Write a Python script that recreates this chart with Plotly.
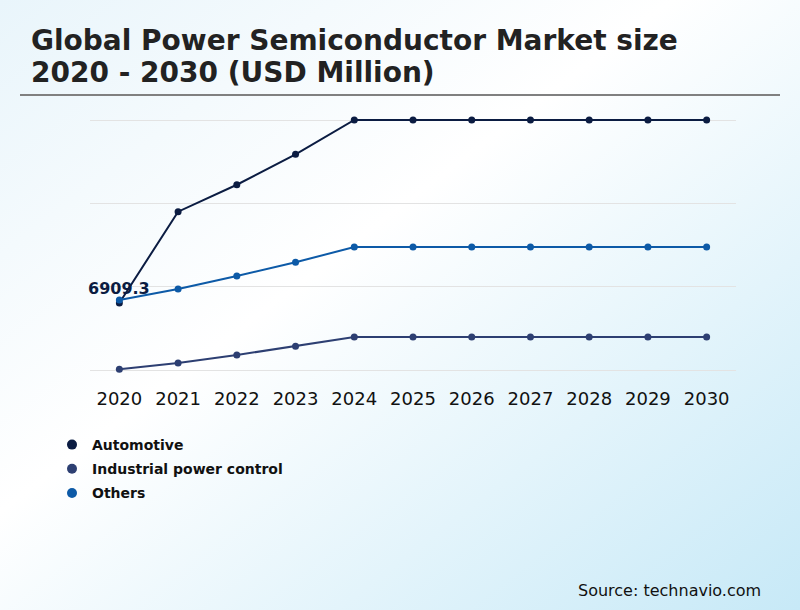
import base64
import plotly.graph_objects as go

# ---- data ----
years = ["2020", "2021", "2022", "2023", "2024", "2025", "2026", "2027", "2028", "2029", "2030"]
automotive = [6909.3, 16340, 19120, 22260, 25800, 25800, 25800, 25800, 25800, 25800, 25800]
industrial = [72, 722, 1548, 2446, 3406, 3406, 3406, 3406, 3406, 3406, 3406]
others = [7224, 8359, 9701, 11115, 12694, 12694, 12694, 12694, 12694, 12694, 12694]
grid_vals = [0, 8600, 17200, 25800]

series = [
    ("Automotive", automotive, "#0b1c42"),
    ("Industrial power control", industrial, "#2d3f72"),
    ("Others", others, "#0d5aa7"),
]

W, H = 800, 610
FONT = "DejaVu Sans"

fig = go.Figure()
for name, vals, col in series:
    fig.add_trace(go.Scatter(
        x=years, y=vals, mode="lines+markers", name=name,
        line=dict(color=col, width=2), marker=dict(color=col, size=7),
        showlegend=False, hoverinfo="skip",
    ))
# legend entries (dot only)
for i, (name, vals, col) in enumerate(series):
    fig.add_trace(go.Scatter(
        x=[None], y=[None], mode="markers", name=name,
        marker=dict(color=col, size=10), legendgroup=f"g{i}", showlegend=True,
    ))

# gradient background
svg = (
    '<svg xmlns="http://www.w3.org/2000/svg" width="800" height="610">'
    '<defs><linearGradient id="g" x1="0" y1="0" x2="1" y2="1">'
    '<stop offset="0" stop-color="#e9f5fb"/>'
    '<stop offset="0.42" stop-color="#ffffff"/>'
    '<stop offset="1" stop-color="#c7e9f7"/>'
    '</linearGradient></defs>'
    '<rect width="800" height="610" fill="url(#g)"/></svg>'
)
src = "data:image/svg+xml;base64," + base64.b64encode(svg.encode()).decode()

def px(x):
    return x / W

def py(y):
    return 1 - y / H

top_px, bot_px = 110, 380
g0, g1 = 370, 120
unit = (grid_vals[-1] - grid_vals[0]) / (g0 - g1)
yr = [grid_vals[0] - (bot_px - g0) * unit, grid_vals[-1] + (g1 - top_px) * unit]

label_idx = 0  # first year of the Automotive series is labelled

fig.update_layout(
    width=W, height=H,
    margin=dict(l=0, r=0, t=0, b=0),
    paper_bgcolor="white", plot_bgcolor="rgba(0,0,0,0)",
    font=dict(family=FONT, color="#000000"),
    images=[dict(source=src, xref="paper", yref="paper", x=0, y=1,
                 sizex=1, sizey=1, sizing="stretch", layer="below")],
    xaxis=dict(domain=[px(90), px(736)], type="category", range=[-0.5, 10.5],
               showgrid=False, showline=False, zeroline=False, ticks="",
               ticklabelstandoff=6,
               tickfont=dict(size=18, color="#111111", family=FONT), automargin=False),
    yaxis=dict(domain=[py(bot_px), py(top_px)], range=yr, tickvals=grid_vals,
               showticklabels=False, showgrid=True, gridcolor="#e3e3e3", gridwidth=1,
               zeroline=False, showline=False, automargin=False),
    showlegend=True,
    legend=dict(x=px(52), y=py(429), xanchor="left", yanchor="top",
                bgcolor="rgba(0,0,0,0)", traceorder="grouped", tracegroupgap=3,
                font=dict(size=14, family=FONT, color="#111111", weight="bold")),
    shapes=[dict(type="line", xref="paper", yref="paper", x0=px(20), x1=px(780),
                 y0=py(95), y1=py(95), line=dict(color="#808080", width=2))],
    annotations=[
        dict(text="<b>Global Power Semiconductor Market size</b>", xref="paper", yref="paper",
             x=px(29), y=py(59), xanchor="left", yanchor="bottom", showarrow=False,
             font=dict(size=28, color="#222222", family=FONT)),
        dict(text="<b>2020 - 2030 (USD Million)</b>", xref="paper", yref="paper",
             x=px(29), y=py(91), xanchor="left", yanchor="bottom", showarrow=False,
             font=dict(size=28, color="#222222", family=FONT)),
        dict(text="Source: technavio.com", xref="paper", yref="paper",
             x=px(763), y=py(590), xanchor="right", yanchor="middle", showarrow=False,
             font=dict(size=16, color="#111111", family=FONT)),
        dict(text=f"<b>{automotive[label_idx]}</b>", x=label_idx, y=automotive[label_idx],
             xref="x", yref="y",
             showarrow=False, yshift=15, font=dict(size=16, color="#0b1c42", family=FONT)),
    ],
)

fig.write_html("out.html", config={"displayModeBar": False},
               post_script="document.body.style.margin='0';")
